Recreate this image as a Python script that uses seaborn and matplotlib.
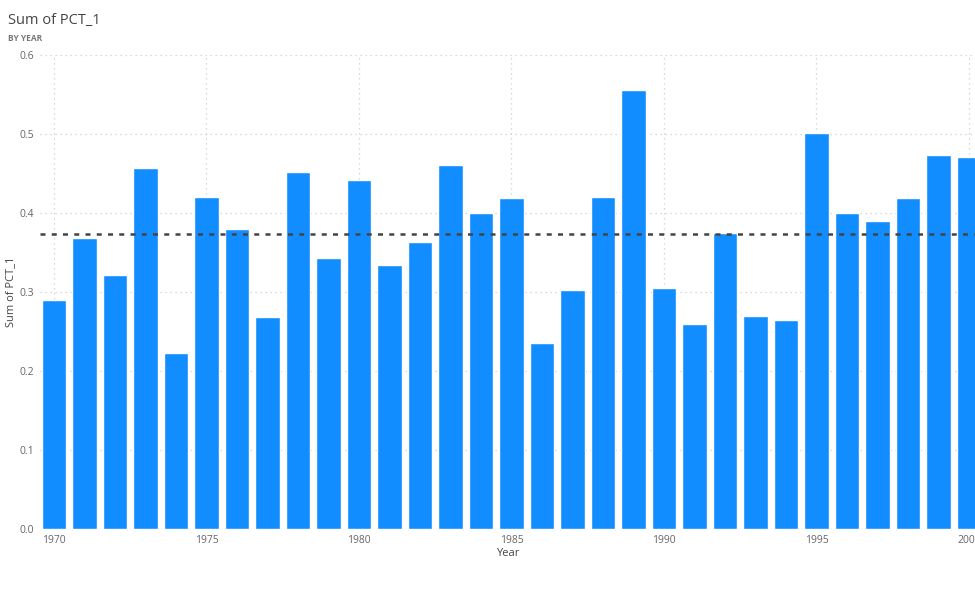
import numpy as np
import pandas as pd
import matplotlib
matplotlib.use("Agg")
import matplotlib.pyplot as plt
import seaborn as sns

years = list(range(1970, 2001))
pct_1 = [0.290, 0.369, 0.322, 0.457, 0.223, 0.421, 0.380, 0.269, 0.452, 0.343,
         0.442, 0.334, 0.364, 0.461, 0.400, 0.419, 0.236, 0.303, 0.420, 0.556,
         0.305, 0.259, 0.375, 0.270, 0.265, 0.501, 0.400, 0.390, 0.419, 0.473,
         0.471]
y_ticks = [0.0, 0.1, 0.2, 0.3, 0.4, 0.5, 0.6]
x_ticks = [1970, 1975, 1980, 1985, 1990, 1995, 2000]

df = pd.DataFrame({"Year": years, "PCT_1": pct_1})

sns.set_style("white")
plt.rcParams["font.family"] = ["Open Sans", "DejaVu Sans"]

fig = plt.figure(figsize=(9.75, 5.93), dpi=100)
ax = fig.add_axes([0.041, 0.108, 0.959, 0.799])

sns.barplot(data=df, x="Year", y="PCT_1", native_scale=True, color="#118DFF",
            saturation=1, width=0.8, ax=ax, zorder=3)

# average line
ax.axhline(np.mean(pct_1), color="#444444", linestyle=(0, (2, 2.5)), linewidth=1.8, zorder=4)

ax.set_xlim(1969.54, 2000.2)
ax.set_ylim(0, 0.6)
ax.set_yticks(y_ticks)
ax.set_yticklabels([f"{t:.1f}" for t in y_ticks])
ax.set_xticks(x_ticks)
ax.set_xticklabels([str(t) for t in x_ticks])
ax.grid(True, color="#cccccc", linestyle=(0, (1, 3)), linewidth=0.9, zorder=0)
for s in ax.spines.values():
    s.set_visible(False)
ax.tick_params(length=0, labelsize=7.5, colors="#666666", pad=4)

ax.set_xlabel("Year", fontsize=8, color="#444444", labelpad=2)
ax.set_ylabel("Sum of PCT_1", fontsize=8, color="#444444", labelpad=3)

fig.text(0.008, 0.966, "Sum of PCT_1", fontsize=10.5, color="#444444", va="center")
fig.text(0.008, 0.935, "BY YEAR", fontsize=6, color="#777777", va="center", fontweight="bold")

fig.savefig("out.png", dpi=100, facecolor="white")
